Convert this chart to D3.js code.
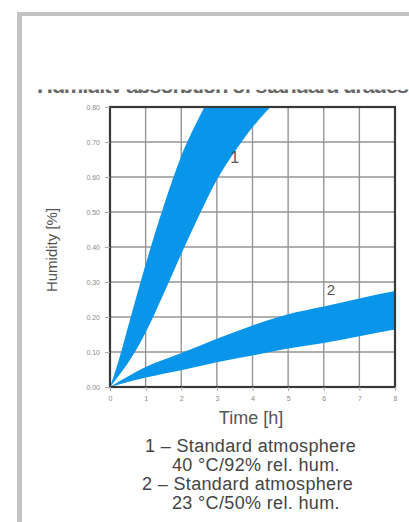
<!DOCTYPE html>
<html>
<head>
<meta charset="utf-8">
<script src="https://cdn.jsdelivr.net/npm/d3@7"></script>
<style>
  body { margin: 0; background: #fff; }
  svg { display: block; font-family: "Liberation Sans", Arial, sans-serif; }
</style>
</head>
<body>
<div id="chart"></div>
<script>
////////////////////
// DATA

var xTicks = [0, 1, 2, 3, 4, 5, 6, 7, 8];
var yTicks = [0, 0.1, 0.2, 0.3, 0.4, 0.5, 0.6, 0.7, 0.8];

// curve 1 - 40 °C / 92 % rel. hum. (band, upper and lower edge)
var time1  = [0, 0.25, 0.5, 1.0, 1.5, 2.0, 2.5, 3.0, 3.5, 4.0, 4.5, 5.0];
var upper1 = [0, 0.078, 0.17, 0.35, 0.515, 0.66, 0.77, 0.867, 0.96, 1.05, 1.14, 1.23];
var lower1 = [0, 0.033, 0.068, 0.156, 0.265, 0.38, 0.49, 0.592, 0.672, 0.742, 0.8, 0.86];

// curve 2 - 23 °C / 50 % rel. hum.
var time2  = [0, 1, 2, 3, 4, 5, 6, 7, 8];
var upper2 = [0, 0.057, 0.097, 0.138, 0.176, 0.208, 0.23, 0.253, 0.274];
var lower2 = [0, 0.027, 0.048, 0.071, 0.09, 0.11, 0.126, 0.145, 0.164];

var legendLines = [
  ["1 – Standard atmosphere", 145],
  ["40 °C/92% rel. hum.", 172],
  ["2 – Standard atmosphere", 142],
  ["23 °C/50% rel. hum.", 172]
];

var titleText = "Humidity absorption of standard grades";

////////////////////
// SETUP
var w = 409, h = 522;
var m = {left: 110, right: 395, top: 107, bottom: 387};
var bandColor = "#0895ea";

var x = d3.scaleLinear().domain([0, 8]).range([m.left, m.right]);
var y = d3.scaleLinear().domain([0, 0.8]).range([m.bottom, m.top]);

var svg = d3.select("#chart").append("svg")
  .attr("width", w)
  .attr("height", h);

svg.append("rect").attr("width", w).attr("height", h).attr("fill", "#fff");

// page frame
svg.append("rect").attr("x", 17).attr("y", 12).attr("width", w - 17).attr("height", 4).attr("fill", "#c2c2c2");
svg.append("rect").attr("x", 17).attr("y", 12).attr("width", 5).attr("height", h - 12).attr("fill", "#c2c2c2");

// cut-off heading (only lower edge of letters visible)
var defs = svg.append("defs");
defs.append("clipPath").attr("id", "titleClip")
  .append("rect").attr("x", 30).attr("y", 89.5).attr("width", w - 30).attr("height", 3.5);
defs.append("clipPath").attr("id", "plotClip")
  .append("rect").attr("x", m.left).attr("y", m.top).attr("width", m.right - m.left).attr("height", m.bottom - m.top);

svg.append("text")
  .attr("clip-path", "url(#titleClip)")
  .attr("x", 37).attr("y", 93)
  .attr("font-size", 22)
  .attr("font-weight", "bold")
  .attr("fill", "#666")
  .attr("textLength", 372)
  .text(titleText);

////////////////////
// GRID
var grid = svg.append("g");
grid.selectAll(".vg").data(xTicks).enter().append("line")
  .attr("x1", function(d) { return x(d); }).attr("x2", function(d) { return x(d); })
  .attr("y1", m.top).attr("y2", m.bottom)
  .attr("stroke", "#959595").attr("stroke-width", 1.4);
grid.selectAll(".hg").data(yTicks).enter().append("line")
  .attr("y1", function(d) { return y(d); }).attr("y2", function(d) { return y(d); })
  .attr("x1", m.left).attr("x2", m.right)
  .attr("stroke", "#959595").attr("stroke-width", 1.4);

////////////////////
// BANDS
function band(ts, lo, hi) {
  return d3.area()
    .x(function(d, i) { return x(ts[i]); })
    .y0(function(d, i) { return y(lo[i]); })
    .y1(function(d, i) { return y(hi[i]); })
    .curve(d3.curveMonotoneX)(ts);
}

var bands = svg.append("g").attr("clip-path", "url(#plotClip)");
bands.append("path").attr("d", band(time1, lower1, upper1)).attr("fill", bandColor);
bands.append("path").attr("d", band(time2, lower2, upper2)).attr("fill", bandColor);

// border
svg.append("rect")
  .attr("x", m.left).attr("y", m.top)
  .attr("width", m.right - m.left).attr("height", m.bottom - m.top)
  .attr("fill", "none").attr("stroke", "#383838").attr("stroke-width", 2.2);

////////////////////
// AXES
var yAxis = svg.append("g")
  .attr("transform", "translate(" + m.left + ",0)")
  .call(d3.axisLeft(y).tickValues(yTicks).tickFormat(d3.format(".2f")).tickSize(5).tickPadding(5));
var xAxis = svg.append("g")
  .attr("transform", "translate(0," + m.bottom + ")")
  .call(d3.axisBottom(x).tickValues(xTicks).tickFormat(d3.format("d")).tickSize(4).tickPadding(5));

[yAxis, xAxis].forEach(function(a) {
  a.select(".domain").remove();
  a.selectAll(".tick line").attr("stroke", "#aaa");
  a.selectAll(".tick text")
    .attr("fill", "#8a8a8a")
    .style("font-size", "7px")
    .style("font-family", "'Liberation Sans', Arial, sans-serif");
});

////////////////////
// LABELS
svg.append("text")
  .attr("x", 251).attr("y", 424)
  .attr("text-anchor", "middle")
  .attr("font-size", 18)
  .attr("fill", "#555")
  .text("Time [h]");

svg.append("text")
  .attr("transform", "translate(57,250) rotate(-90)")
  .attr("text-anchor", "middle")
  .attr("font-size", 15)
  .attr("fill", "#555")
  .text("Humidity [%]");

svg.append("text").attr("x", x(3.5)).attr("y", y(0.64))
  .attr("text-anchor", "middle").attr("font-size", 16).attr("fill", "#555").text("1");
svg.append("text").attr("x", x(6.2)).attr("y", y(0.262))
  .attr("text-anchor", "middle").attr("font-size", 15).attr("fill", "#555").text("2");

svg.selectAll(".legend").data(legendLines).enter().append("text")
  .attr("x", function(d) { return d[1]; })
  .attr("y", function(d, i) { return 452 + i * 19; })
  .attr("font-size", 18)
  .attr("letter-spacing", 0.35)
  .attr("fill", "#444")
  .text(function(d) { return d[0]; });
</script>
</body>
</html>
